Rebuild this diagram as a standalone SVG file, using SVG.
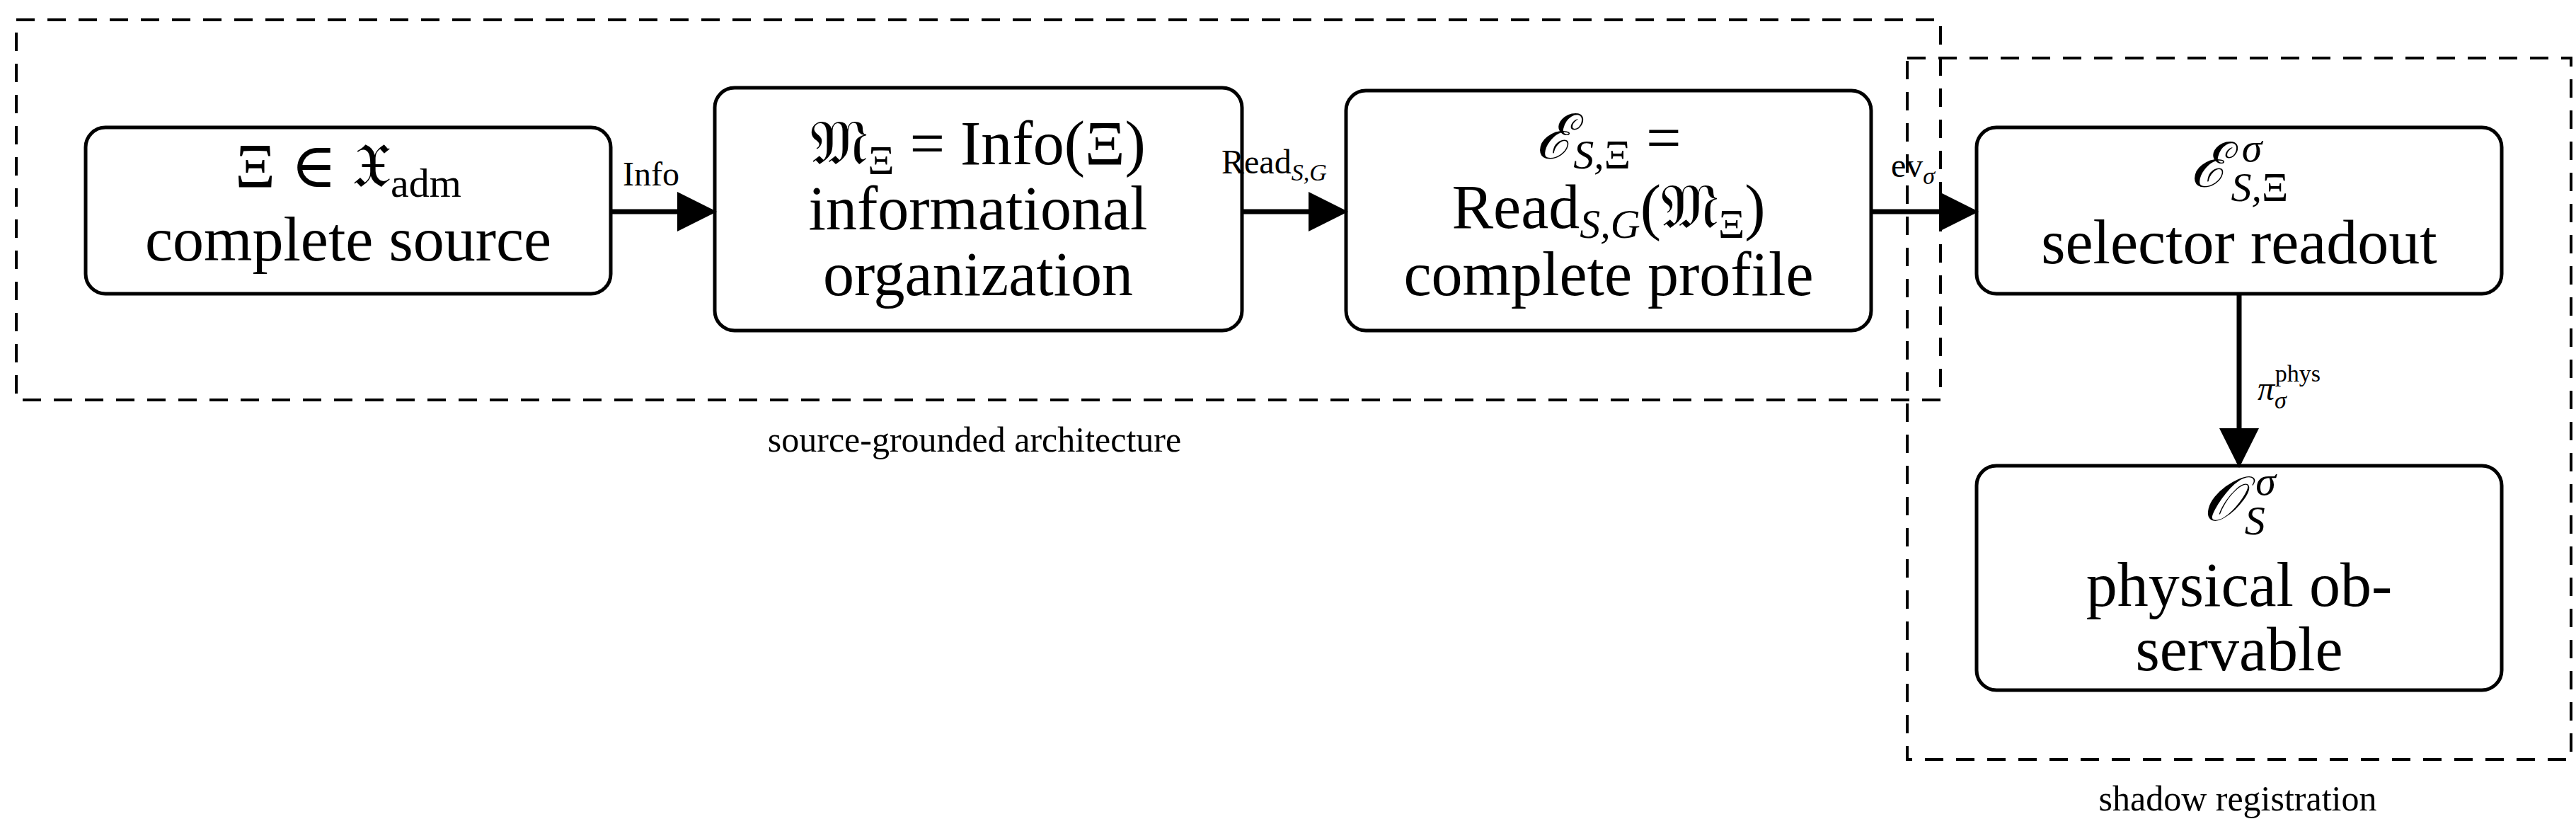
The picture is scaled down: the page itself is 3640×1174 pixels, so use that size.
<svg xmlns="http://www.w3.org/2000/svg" width="3640" height="1174" viewBox="0 0 3640 1174">
<style>
text{font-family:"Liberation Serif","DejaVu Serif",serif;fill:#000}
.n{font-size:88px;text-anchor:middle}
.l{font-size:48px}
.c{font-size:50px;text-anchor:middle}
.box{fill:#fff;stroke:#000;stroke-width:5}
.grp{fill:none;stroke:#000;stroke-width:4;stroke-dasharray:26 18}
.e{stroke:#000;stroke-width:7;fill:none}
</style>
<defs><marker id="a" markerWidth="8" markerHeight="8" refX="7" refY="4" orient="auto" markerUnits="strokeWidth"><path d="M0,0L8,4L0,8z"/></marker></defs>
<rect class="grp" x="23" y="28" width="2719" height="537"/>
<rect class="grp" x="2695" y="82" width="938" height="991"/>
<text class="c" x="1377" y="638">source-grounded architecture</text>
<text class="c" x="3162" y="1145">shadow registration</text>
<g id="n1"><rect class="box" x="121" y="180" width="742" height="235" rx="28"/>
<text class="n" x="492" y="264">Ξ ∈ 𝔛<tspan font-size="58" dy="14">adm</tspan></text>
<text class="n" x="492" y="368">complete source</text></g>
<g id="n2"><rect class="box" x="1010" y="124" width="745" height="343" rx="28"/>
<text class="n" x="1382" y="232">𝔐<tspan font-size="58" dy="14">Ξ</tspan><tspan dy="-14"> = Info(Ξ)</tspan></text>
<text class="n" x="1382" y="324">informational</text>
<text class="n" x="1382" y="417">organization</text></g>
<g id="n3"><rect class="box" x="1902" y="128" width="742" height="339" rx="28"/>
<text class="n" x="2273" y="224"><tspan font-style="italic">ℰ</tspan><tspan font-size="58" dy="14" font-style="italic">S,</tspan><tspan font-size="58">Ξ</tspan><tspan dy="-14">   =</tspan></text>
<text class="n" x="2273" y="322">Read<tspan font-size="58" dy="14" font-style="italic">S,G</tspan><tspan dy="-14">(𝔐</tspan><tspan font-size="58" dy="14">Ξ</tspan><tspan dy="-14">)</tspan></text>
<text class="n" x="2273" y="417">complete profile</text></g>
<g id="n4"><rect class="box" x="2793" y="180" width="742" height="235" rx="28"/>
<text class="n" x="3164" y="264"><tspan font-style="italic">ℰ</tspan><tspan font-size="58" dx="20" dy="-36" font-style="italic">σ</tspan><tspan font-size="58" dx="-44" dy="56" font-style="italic">S,</tspan><tspan font-size="58">Ξ</tspan></text>
<text class="n" x="3164" y="372">selector readout</text></g>
<g id="n5"><rect class="box" x="2793" y="658" width="742" height="317" rx="28"/>
<text class="n" x="3164" y="735"><tspan font-style="italic">𝒪</tspan><tspan font-size="58" dx="20" dy="-36" font-style="italic">σ</tspan><tspan font-size="58" dx="-44" dy="56" font-style="italic">S</tspan></text>
<text class="n" x="3164" y="856">physical ob-</text>
<text class="n" x="3164" y="947">servable</text></g>
<g id="edges">
<line class="e" x1="863" y1="299" x2="1006" y2="299" marker-end="url(#a)"/>
<line class="e" x1="1755" y1="299" x2="1898" y2="299" marker-end="url(#a)"/>
<line class="e" x1="2644" y1="299" x2="2789" y2="299" marker-end="url(#a)"/>
<line class="e" x1="3164" y1="415" x2="3164" y2="654" marker-end="url(#a)"/>
<text class="l" x="880" y="262">Info</text>
<text class="l" x="1726" y="245">Read<tspan font-size="34" dy="10" font-style="italic">S,G</tspan></text>
<text class="l" x="2672" y="250">ev<tspan font-size="34" dy="10" font-style="italic">σ</tspan></text>
<text class="l" x="3190" y="565" font-style="italic">π<tspan font-size="34" dy="12">σ</tspan><tspan font-size="34" dx="-16" dy="-38" font-style="normal">phys</tspan></text>
</g>
</svg>
